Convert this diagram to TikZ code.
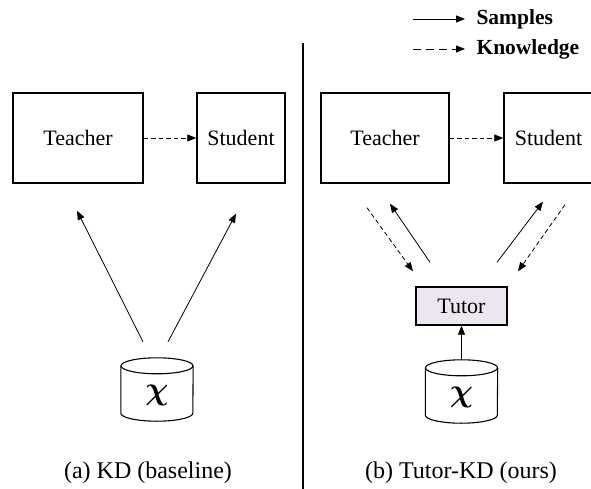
\documentclass[tikz,border=0pt]{standalone}
\usepackage{fontspec}
\setmainfont{Liberation Serif}
\usepackage{bm}
\usetikzlibrary{arrows.meta,calc}
\definecolor{tutorfill}{RGB}{236,230,240}
\tikzset{
  boxnode/.style={draw,line width=1.4pt,minimum height=90pt,inner sep=0pt,font=\fontsize{22}{24}\selectfont},
  tutornode/.style={draw,line width=1.4pt,fill=tutorfill,minimum width=91pt,minimum height=38pt,inner sep=0pt,font=\fontsize{22}{24}\selectfont},
  dbnode/.style={minimum width=72pt,minimum height=63pt,inner sep=0pt},
  dbline/.style={line width=1.1pt},
  chitext/.style={scale=1.3,font=\fontsize{24.88}{26}\selectfont},
  arr/.style={line width=0.8pt,-{Triangle[length=9pt,width=7pt]}},
  darr/.style={arr,dash pattern=on 4.5pt off 3pt},
  captext/.style={anchor=base,font=\fontsize{24}{26}\selectfont},
  legtext/.style={anchor=west,font=\bfseries\fontsize{21.5}{24}\selectfont}
}
\begin{document}
\begin{tikzpicture}[x=1pt,y=-1pt]
\useasboundingbox (0,0) rectangle (591,489);
\begin{scope}
\clip (0,0) rectangle (591,489);
% legend
\coordinate (ls) at (413,19);
\node[legtext] (samp) at (473,19) {Samples};
\draw[arr,shorten >=8pt] (ls) -- (samp.west);
\coordinate (lk) at (413,49);
\node[legtext] (know) at (473,49) {Knowledge};
\draw[arr,dash pattern=on 8pt off 5pt,shorten >=8pt] (lk) -- (know.west);
% divider
\coordinate (dtop) at (303,43);
\coordinate (dbot) at (303,489);
\draw[line width=1.5pt] (dtop) -- (dbot);
% left panel
\node[boxnode,minimum width=130pt] (TL) at (78,138) {Teacher};
\node[boxnode,minimum width=88pt] (SL) at (241,138) {Student};
\draw[darr] (TL.east) -- (SL.west);
\node[dbnode] (DL) at (157,389.5) {};
\draw[dbline] ($(DL.north)+(0,8)$) ellipse [x radius=36, y radius=8];
\draw[dbline] ($(DL.north west)+(0,8)$) -- ($(DL.south west)+(0,-8)$) arc[start angle=180,end angle=0,x radius=36,y radius=8] -- ($(DL.north east)+(0,8)$);
\node[chitext] (chiL) at ($(DL.center)+(0,6)$) {$\bm{\chi}$};
\draw[arr] ($(DL.north)+(-14,-16)$) -- ($(TL.south)+(-1,27)$);
\draw[arr] ($(DL.north)+(11,-16)$) -- ($(SL.south)+(-5,30)$);
\node[captext] (capa) at (148,478) {(a) KD (baseline)};
% right panel
\node[boxnode,minimum width=128pt] (TR) at (385,138) {Teacher};
\node[boxnode,minimum width=89pt] (SR) at (548.5,138) {Student};
\draw[darr] (TR.east) -- (SR.west);
\node[tutornode] (TU) at (461.5,306) {Tutor};
\node[dbnode] (DR) at (461.5,391.5) {};
\draw[dbline] ($(DR.north)+(0,8)$) ellipse [x radius=36, y radius=8];
\draw[dbline] ($(DR.north west)+(0,8)$) -- ($(DR.south west)+(0,-8)$) arc[start angle=180,end angle=0,x radius=36,y radius=8] -- ($(DR.north east)+(0,8)$);
\node[chitext] (chiR) at ($(DR.center)+(0,6)$) {$\bm{\chi}$};
\draw[arr] (DR.north) -- (TU.south);
\draw[darr] ($(TR.south)+(-18,24)$) -- ($(TU.north)+(-48.5,-15)$);
\draw[arr] ($(TU.north)+(-31.5,-24)$) -- ($(TR.south)+(5,20)$);
\draw[arr] ($(TU.north)+(35.5,-24)$) -- ($(SR.south)+(-5.5,18)$);
\draw[darr] ($(SR.south)+(16.5,21)$) -- ($(TU.north)+(56.5,-15)$);
\node[captext] (capb) at (461,478) {(b) Tutor-KD (ours)};
\end{scope}
\end{tikzpicture}
\end{document}
